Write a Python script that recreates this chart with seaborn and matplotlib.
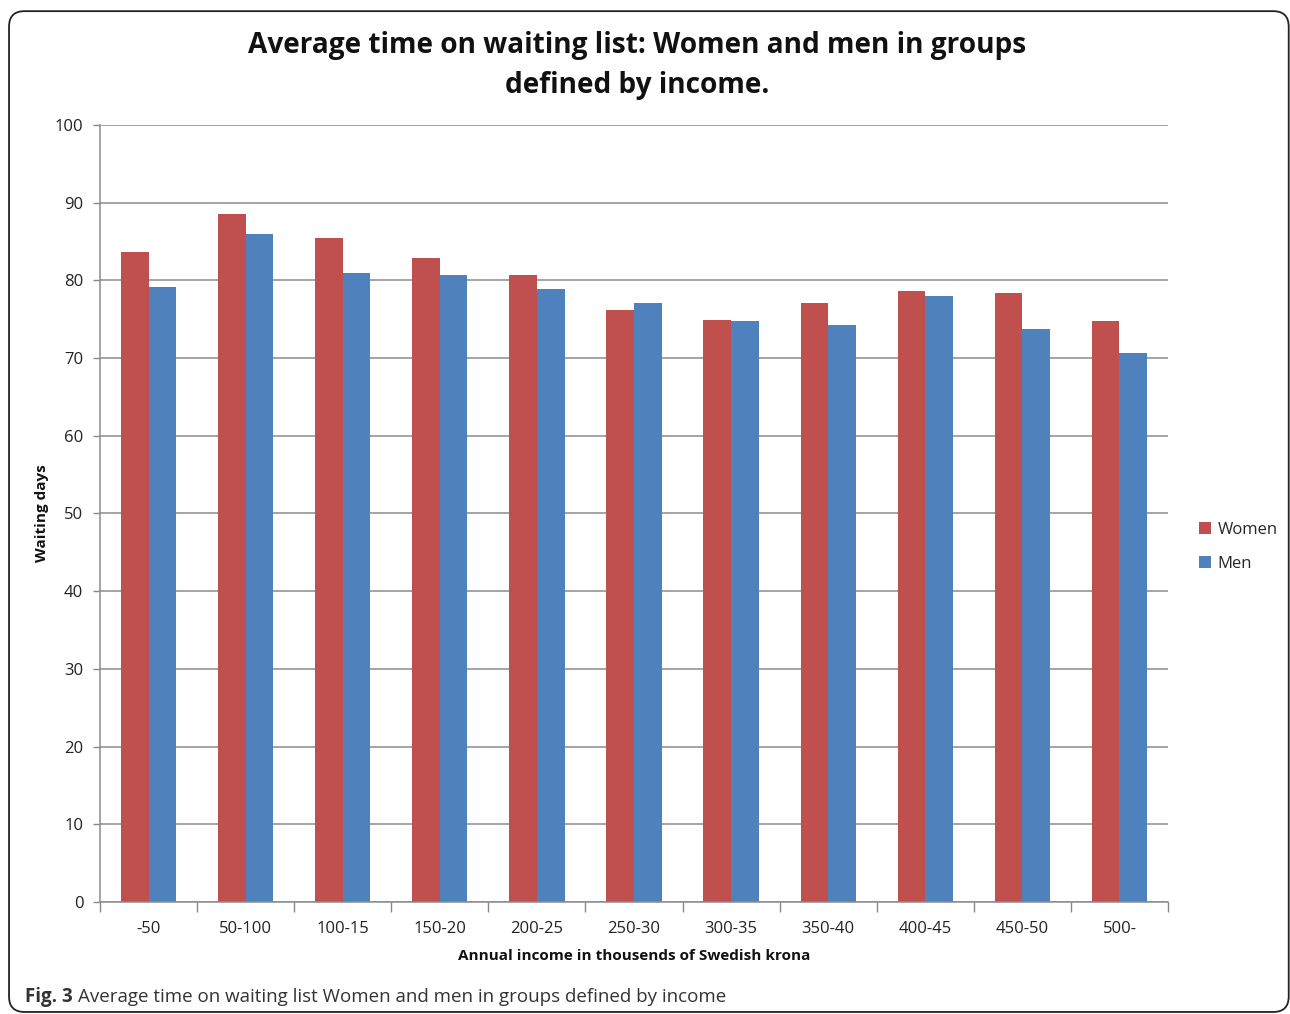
import matplotlib
matplotlib.use("Agg")
import matplotlib.pyplot as plt
import seaborn as sns
import pandas as pd
import numpy as np
from matplotlib.patches import FancyBboxPatch
from matplotlib.ticker import FixedLocator

categories = ["-50", "50-100", "100-15", "150-20", "200-25", "250-30",
              "300-35", "350-40", "400-45", "450-50", "500-"]
women = [83.6, 88.5, 85.4, 82.9, 80.7, 76.2, 74.9, 77.1, 78.6, 78.4, 74.8]
men = [79.1, 86.0, 80.9, 80.7, 78.9, 77.1, 74.8, 74.3, 78.0, 73.7, 70.7]
series = ["Women", "Men"]
colors = ["#C0504D", "#4F81BD"]
yticks = list(range(0, 101, 10))

df = pd.DataFrame({
    "Income": categories * 2,
    "Days": women + men,
    "Sex": ["Women"] * len(categories) + ["Men"] * len(categories),
})

sns.set_theme(style="white")
plt.rcParams["font.family"] = ["Open Sans", "DejaVu Sans"]

fig = plt.figure(figsize=(12.9, 10.14), dpi=100)
ax = fig.add_axes([100 / 1290, 0.1105, 1068 / 1290, 0.7662])

sns.barplot(data=df, x="Income", y="Days", hue="Sex", hue_order=series,
            palette=colors, width=0.57, gap=0, saturation=1, ax=ax,
            errorbar=None, legend=True, linewidth=0, edgecolor="none")

ax.set_ylim(0, 100)
ax.set_xlim(-0.5, len(categories) - 0.5)
ax.set_yticks(yticks)
ax.set_yticklabels([str(v) for v in yticks], fontsize=12, color="#222222")
ax.tick_params(axis="x", which="major", length=0, pad=14, labelsize=12,
               labelcolor="#222222")
ax.xaxis.set_minor_locator(FixedLocator(np.arange(-0.5, len(categories), 1.0)))
ax.tick_params(axis="x", which="minor", length=7, width=1, color="#888888",
               direction="out", bottom=True)
ax.tick_params(axis="y", which="major", length=5, width=1, color="#888888",
               direction="out", left=True, pad=7)

ax.yaxis.grid(True, color="#8c8c8c", linewidth=1.1)
ax.xaxis.grid(False)
ax.set_axisbelow(True)
for s in ["top", "right"]:
    ax.spines[s].set_visible(False)
for s in ["left", "bottom"]:
    ax.spines[s].set_color("#8c8c8c")
    ax.spines[s].set_linewidth(1.1)

ax.set_xlabel("Annual income in thousends of Swedish krona", fontsize=11,
              fontweight="bold", labelpad=8, color="#111111")
ax.set_ylabel("Waiting days", fontsize=11, fontweight="bold", labelpad=4,
              color="#111111")

leg = ax.legend(loc="center left", bbox_to_anchor=(1.015, 0.457), frameon=False,
                fontsize=12, handlelength=0.7, handleheight=0.7,
                handletextpad=0.4, labelspacing=1.05)

fig.text(0.494, 0.955, "Average time on waiting list: Women and men in groups",
         ha="center", va="center", fontsize=20.2, fontweight="bold", color="#111111")
fig.text(0.494, 0.916, "defined by income.", ha="center", va="center",
         fontsize=20.2, fontweight="bold", color="#111111")

t1 = fig.text(0.0195, 0.0165, "Fig. 3", ha="left", va="center", fontsize=13.5,
              fontweight="bold", color="#333333")
fig.canvas.draw()
bb = t1.get_window_extent()
x2 = fig.transFigure.inverted().transform((bb.x1, bb.y0))[0]
fig.text(x2 + 0.004, 0.0165, "Average time on waiting list Women and men in groups defined by income",
         ha="left", va="center", fontsize=13.5, color="#333333")

box = FancyBboxPatch((0.007, 0.002), 0.992, 0.987, transform=fig.transFigure,
                     boxstyle="round,pad=0,rounding_size=0.012",
                     facecolor="none", edgecolor="#222222", linewidth=1.3,
                     mutation_aspect=1290 / 1014)
fig.patches.append(box)

fig.savefig("out.png", dpi=100)
